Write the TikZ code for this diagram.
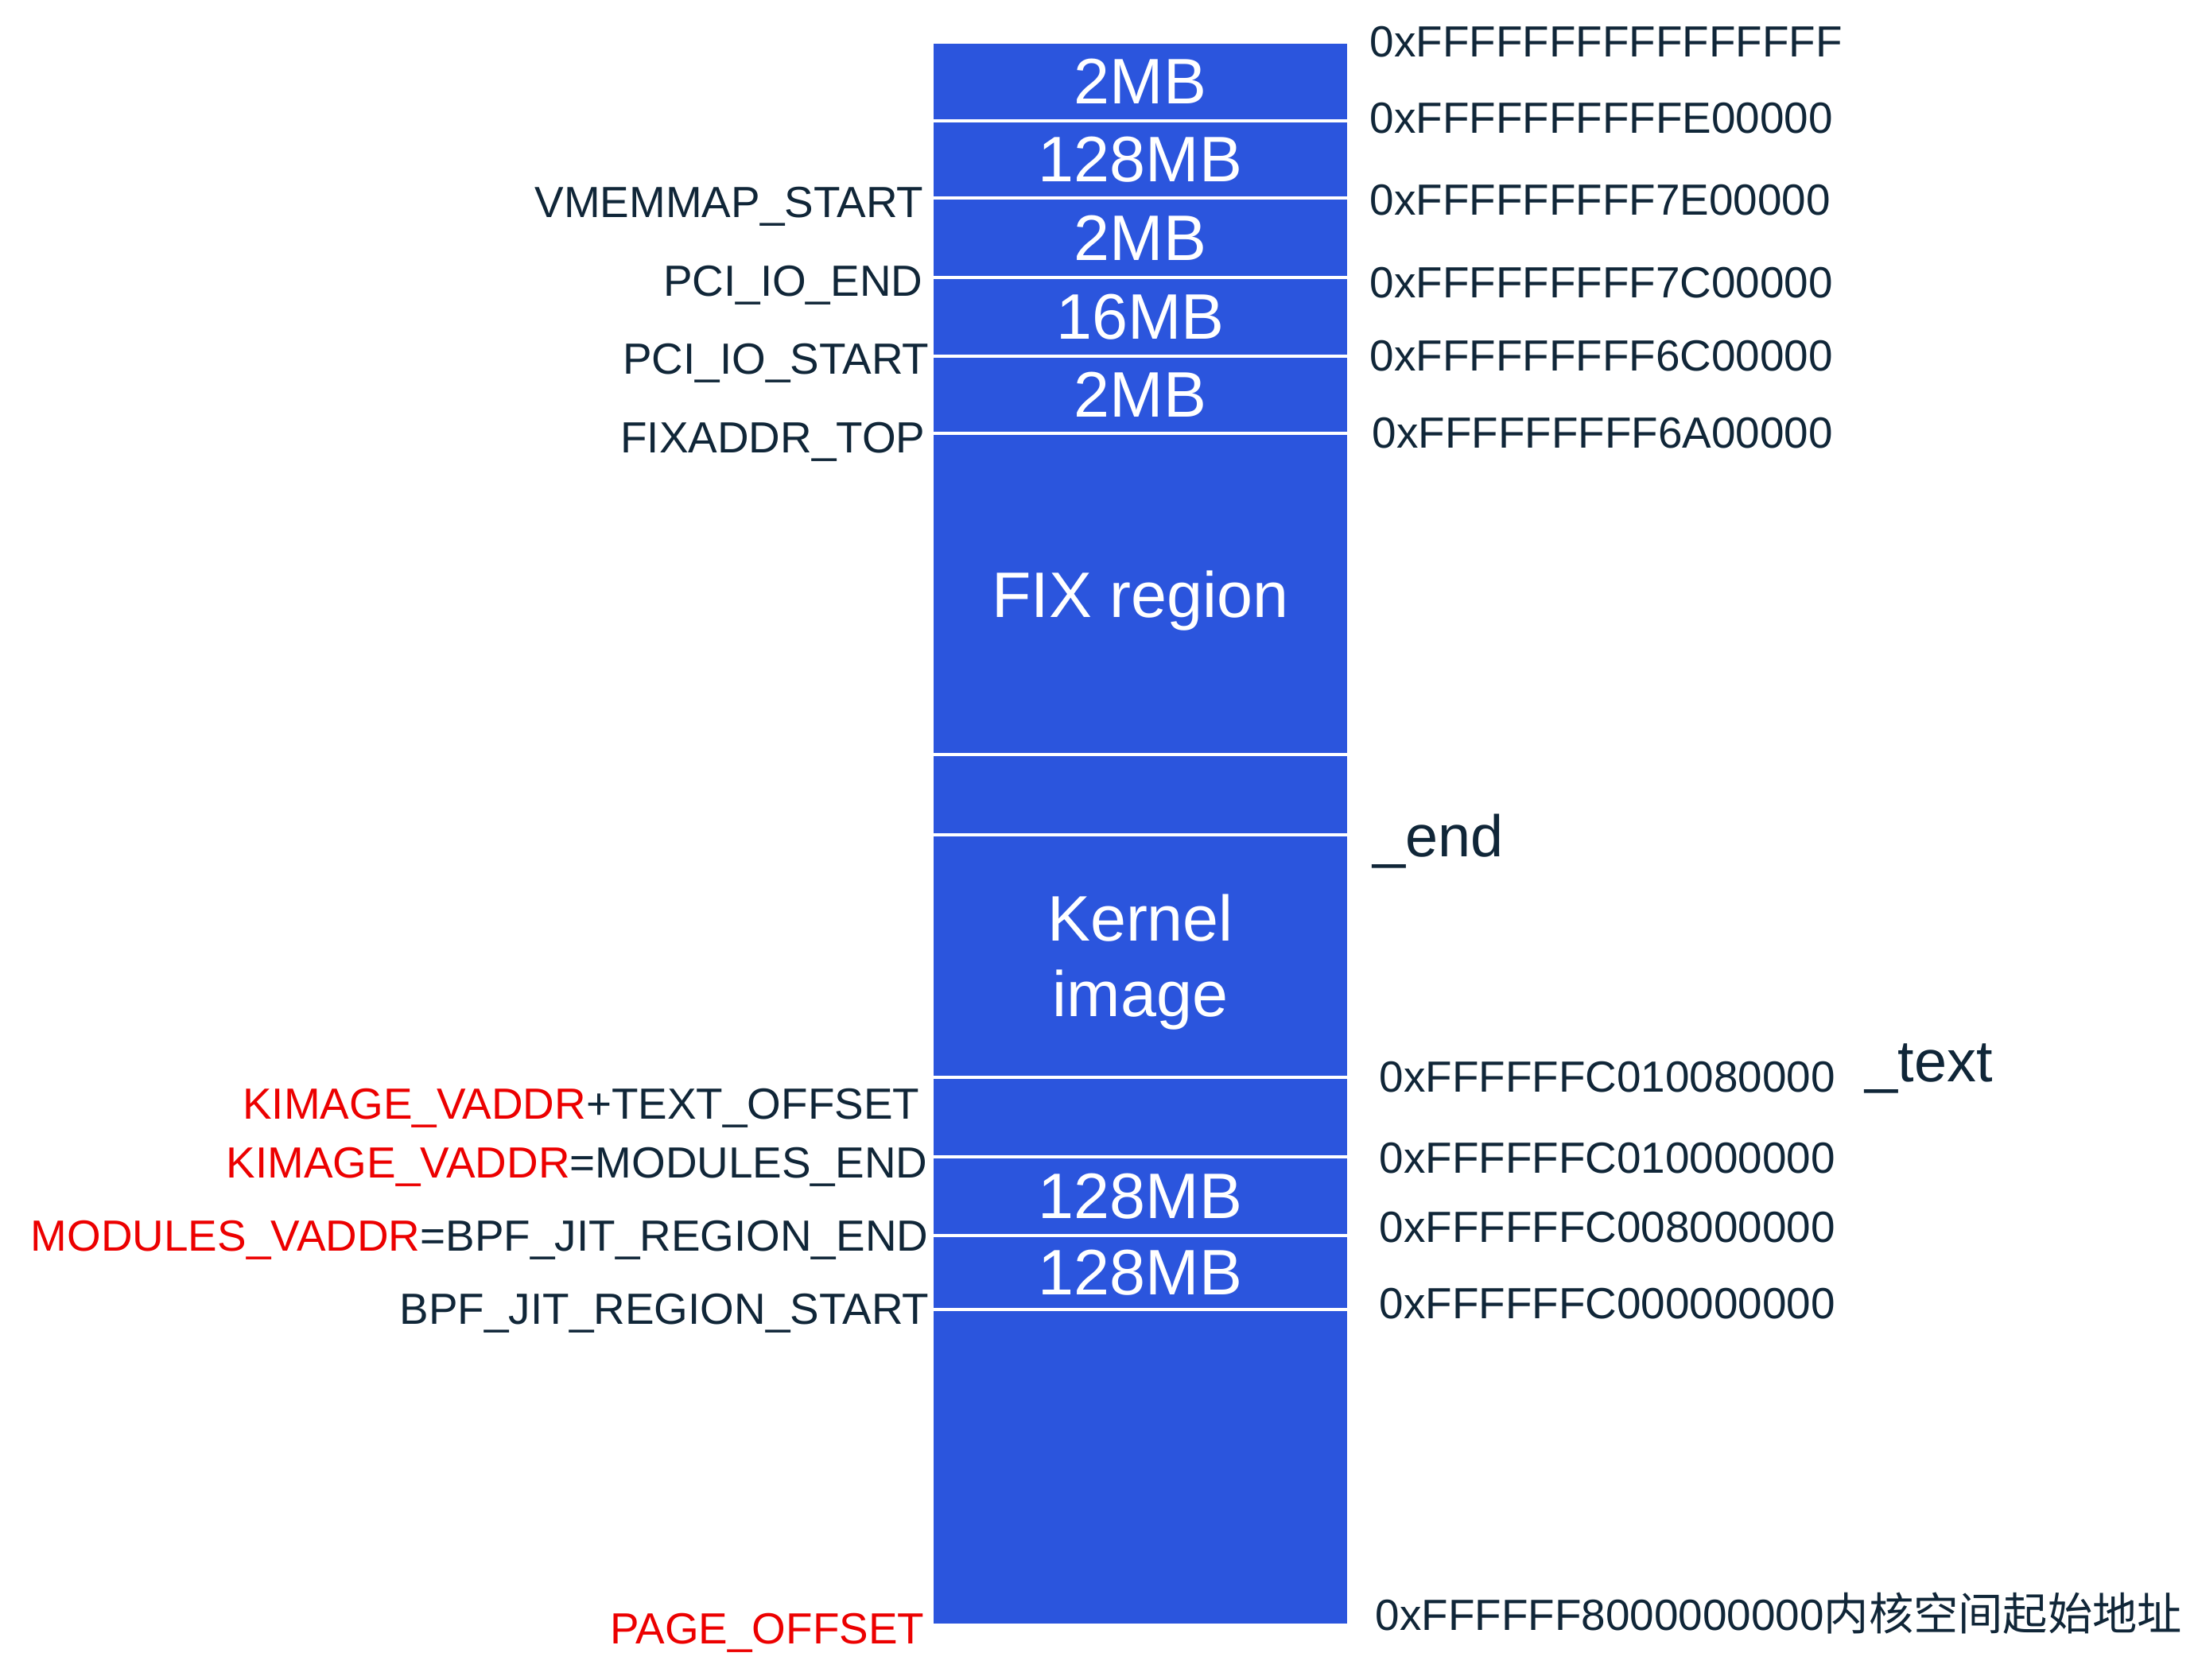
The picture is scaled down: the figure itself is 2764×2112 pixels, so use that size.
\documentclass[tikz,border=0pt]{standalone}
\usepackage{fontspec}
\setmainfont{Liberation Sans}
\newfontfamily\cjk{Noto Sans CJK SC}
\usepackage{tikz}
\usetikzlibrary{positioning}

\definecolor{memblue}{RGB}{43,85,221}
\definecolor{ink}{RGB}{16,38,56}
\definecolor{kred}{RGB}{236,0,0}

\begin{document}
\begin{tikzpicture}[x=0.01cm, y=-0.01cm,
    seg/.style={draw=white, line width=0.04cm, fill=memblue, text=white,
        minimum width=5.24cm, inner sep=0pt, outer sep=0pt, align=center,
        font=\fontsize{23}{27}\selectfont},
    addr/.style={anchor=base west, inner sep=0pt, text=ink,
        font=\fontsize{15.6}{18}\selectfont},
    sym/.style={anchor=base east, inner sep=0pt, text=ink,
        font=\fontsize{15.6}{18}\selectfont},
    tag/.style={anchor=base west, inner sep=0pt, text=ink,
        font=\fontsize{21}{24}\selectfont}]
    \useasboundingbox (0,0) rectangle (2764,2112);

    % memory column, top to bottom
    \node[seg, minimum height=0.99cm] (s1) at (1434,102.5) {2MB};
    \node[seg, minimum height=0.97cm, below=0pt of s1] (s2) {128MB};
    \node[seg, minimum height=1.00cm, below=0pt of s2] (s3) {2MB};
    \node[seg, minimum height=0.99cm, below=0pt of s3] (s4) {16MB};
    \node[seg, minimum height=0.97cm, below=0pt of s4] (s5) {2MB};
    \node[seg, text depth=0pt, minimum height=4.03cm, below=0pt of s5] (fix) {FIX region};
    \node[seg, minimum height=1.01cm, below=0pt of fix] (gap1) {};
    \node[seg, text depth=0pt, minimum height=3.05cm, below=0pt of gap1] (kimg) {Kernel\\image};
    \node[seg, minimum height=1.00cm, below=0pt of kimg] (gap2) {};
    \node[seg, minimum height=0.99cm, below=0pt of gap2] (mods) {128MB};
    \node[seg, minimum height=0.93cm, below=0pt of mods] (bpf) {128MB};
    \node[seg, minimum height=3.97cm, below=0pt of bpf] (low) {};

    % addresses on the right
    \node[addr] (a1) at (1722,71) {0xFFFFFFFFFFFFFFFF};
    \node[addr] (a2) at (1722,167) {0xFFFFFFFFFFE00000};
    \node[addr] (a3) at (1722,270) {0xFFFFFFFFF7E00000};
    \node[addr] (a4) at (1722,374) {0xFFFFFFFFF7C00000};
    \node[addr] (a5) at (1722,466) {0xFFFFFFFFF6C00000};
    \node[addr] (a6) at (1725,563) {0xFFFFFFFFF6A00000};
    \node[tag] (tend) at (1726,1077) {\_end};
    \node[addr] (a7) at (1734,1373) {0xFFFFFFC010080000};
    \node[tag] (ttext) at (2345,1360) {\_text};
    \node[addr] (a8) at (1734,1475) {0xFFFFFFC010000000};
    \node[addr] (a9) at (1734,1562) {0xFFFFFFC008000000};
    \node[addr] (a10) at (1734,1658) {0xFFFFFFC000000000};
    \node[addr] (a11) at (1729,2050) {0xFFFFFF8000000000{\cjk\fontsize{16}{20}\selectfont 内核空间起始地址}};

    % symbols on the left
    \node[sym] (l1) at (1162,273) {VMEMMAP\_START};
    \node[sym] (l2) at (1161,372) {PCI\_IO\_END};
    \node[sym] (l3) at (1169,470) {PCI\_IO\_START};
    \node[sym] (l4) at (1164,569) {FIXADDR\_TOP};
    \node[sym] (l5) at (1157,1407) {{\color{kred}KIMAGE\_VADDR}+TEXT\_OFFSET};
    \node[sym] (l6) at (1167,1481) {{\color{kred}KIMAGE\_VADDR}=MODULES\_END};
    \node[sym] (l7) at (1168,1573) {{\color{kred}MODULES\_VADDR}=BPF\_JIT\_REGION\_END};
    \node[sym] (l8) at (1169,1665) {BPF\_JIT\_REGION\_START};
    \node[sym, text=kred] (l9) at (1163,2067) {PAGE\_OFFSET};
\end{tikzpicture}
\end{document}
